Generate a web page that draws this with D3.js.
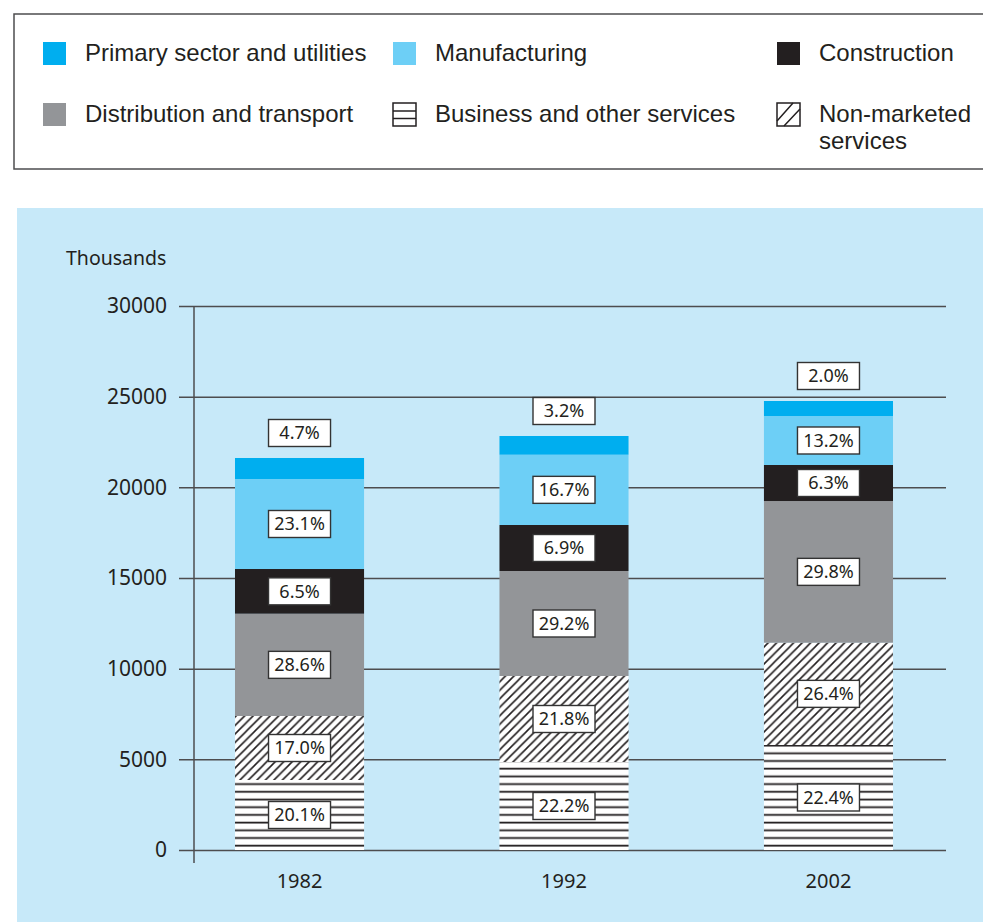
<!DOCTYPE html>
<html>
<head>
<meta charset="utf-8">
<script src="https://cdn.jsdelivr.net/npm/d3@7"></script>
<style>
  body { margin: 0; background: #fff; }
  svg { display: block; }
  .legend text { font-family: "Liberation Sans", Arial, sans-serif; font-size: 24px; fill: #231f20; }
  .chart text { font-family: "Noto Sans", "Open Sans", sans-serif; fill: #231f20; }
</style>
</head>
<body>
<svg></svg>
<script>
// years on the x axis
const years = ["1982", "1992", "2002"];

// sectors, bottom of the stack first
const sectors = ["business", "nonMarketed", "distribution", "construction", "manufacturing", "primary"];

// employment, thousands
const business      = [3860, 4853, 5790];
const nonMarketed   = [3530, 4743, 5642];
const distribution  = [5641, 5790, 7814];
const construction  = [2465, 2537, 1986];
const manufacturing = [4964, 3877, 2702];
const primary       = [1158, 1031, 827];

// share labels printed on the bars
const businessPct      = ["20.1%", "22.2%", "22.4%"];
const nonMarketedPct   = ["17.0%", "21.8%", "26.4%"];
const distributionPct  = ["28.6%", "29.2%", "29.8%"];
const constructionPct  = ["6.5%", "6.9%", "6.3%"];
const manufacturingPct = ["23.1%", "16.7%", "13.2%"];
const primaryPct       = ["4.7%", "3.2%", "2.0%"];

const yTicks = [0, 5000, 10000, 15000, 20000, 25000, 30000];

const values = {business, nonMarketed, distribution, construction, manufacturing, primary};
const pcts = {
  business: businessPct, nonMarketed: nonMarketedPct, distribution: distributionPct,
  construction: constructionPct, manufacturing: manufacturingPct, primary: primaryPct
};

const width = 983;
const height = 922;
const svg = d3.select("svg")
              .attr("width", width)
              .attr("height", height);

const defs = svg.append("defs");

// diagonal hatch for non-marketed services
const diag = defs.append("pattern")
    .attr("id", "diag")
    .attr("patternUnits", "userSpaceOnUse")
    .attr("width", 8.5)
    .attr("height", 8.5);
diag.append("rect").attr("width", 8.5).attr("height", 8.5).attr("fill", "#fff");
diag.append("path")
    .attr("d", "M-2,2 l4,-4 M0,8.5 l8.5,-8.5 M6.5,10.5 l4,-4")
    .attr("stroke", "#231f20")
    .attr("stroke-width", 1.6);

// horizontal lines for business and other services
const horiz = defs.append("pattern")
    .attr("id", "horiz")
    .attr("patternUnits", "userSpaceOnUse")
    .attr("width", 10)
    .attr("height", 7.7);
horiz.append("rect").attr("width", 10).attr("height", 7.7).attr("fill", "#fff");
horiz.append("line")
    .attr("x1", 0).attr("x2", 10)
    .attr("y1", 6.4).attr("y2", 6.4)
    .attr("stroke", "#231f20")
    .attr("stroke-width", 1.8);

const fills = {
  primary: "#00aeef",
  manufacturing: "#6dcff6",
  construction: "#231f20",
  distribution: "#939598",
  business: "url(#horiz)",
  nonMarketed: "url(#diag)"
};

// ---- legend ----
const legend = svg.append("g").attr("class", "legend");
legend.append("rect")
    .attr("x", 14).attr("y", 14)
    .attr("width", 1000).attr("height", 155)
    .attr("fill", "#fff")
    .attr("stroke", "#4d4d4f")
    .attr("stroke-width", 1.5);

const legendItems = [
  {key: "primary", lines: ["Primary sector and utilities"], x: 43, y: 42},
  {key: "manufacturing", lines: ["Manufacturing"], x: 393, y: 42},
  {key: "construction", lines: ["Construction"], x: 777, y: 42},
  {key: "distribution", lines: ["Distribution and transport"], x: 43, y: 103},
  {key: "business", lines: ["Business and other services"], x: 393, y: 103},
  {key: "nonMarketed", lines: ["Non-marketed", "services"], x: 777, y: 103}
];

legendItems.forEach(function(d) {
  const g = legend.append("g").attr("transform", "translate(" + d.x + "," + d.y + ")");
  if (d.key == "business") {
    g.append("rect").attr("width", 23).attr("height", 23)
        .attr("fill", "#fff").attr("stroke", "#231f20").attr("stroke-width", 1.5);
    [8, 15.5].forEach(function(yy) {
      g.append("line").attr("x1", 0).attr("x2", 23).attr("y1", yy).attr("y2", yy)
          .attr("stroke", "#231f20").attr("stroke-width", 1.5);
    });
  } else if (d.key == "nonMarketed") {
    g.append("rect").attr("width", 23).attr("height", 23)
        .attr("fill", "#fff").attr("stroke", "#231f20").attr("stroke-width", 1.5);
    g.append("path").attr("d", "M0,18 L16,0 M7,23 L23,6")
        .attr("stroke", "#231f20").attr("stroke-width", 1.5);
  } else {
    g.append("rect").attr("width", 23).attr("height", 23).attr("fill", fills[d.key]);
  }
  d.lines.forEach(function(t, i) {
    g.append("text")
        .attr("x", 42)
        .attr("y", 19 + i * 27)
        .text(t);
  });
});

// ---- chart panel ----
const chart = svg.append("g").attr("class", "chart");
chart.append("rect")
    .attr("x", 17).attr("y", 208)
    .attr("width", 970).attr("height", 720)
    .attr("fill", "#c7e9f9");

const y = d3.scaleLinear()
    .domain([0, 30000])
    .range([850, 306]);

const x = d3.scaleBand()
    .domain(years)
    .range([194, 934])
    .paddingInner(0.512)
    .paddingOuter(0.155);

// gridlines + tick labels
const yAxis = chart.append("g")
    .attr("transform", "translate(179,0)")
    .call(d3.axisLeft(y)
      .tickValues(yTicks)
      .tickFormat(d3.format("d"))
      .tickSizeInner(-767)
      .tickSizeOuter(0)
      .tickPadding(12));
yAxis.select(".domain").remove();
yAxis.selectAll(".tick line").attr("stroke", "#4d4d4f").attr("stroke-width", 1.5);
yAxis.selectAll(".tick text")
    .attr("font-family", "Noto Sans, sans-serif")
    .attr("font-size", 21)
    .attr("fill", "#231f20");

// vertical axis line
chart.append("line")
    .attr("x1", 194).attr("x2", 194)
    .attr("y1", y(30000)).attr("y2", 863)
    .attr("stroke", "#4d4d4f")
    .attr("stroke-width", 1.5);

chart.append("text")
    .attr("x", 66).attr("y", 265)
    .attr("font-size", 19.5)
    .text("Thousands");

// stacked bars
const table = years.map(function(yr, i) {
  const row = {year: yr};
  sectors.forEach(function(s) { row[s] = values[s][i]; });
  return row;
});

const series = d3.stack().keys(sectors)(table);

const layers = chart.selectAll("g.layer")
    .data(series)
    .enter()
    .append("g")
      .attr("class", "layer")
      .attr("fill", d => fills[d.key]);

layers.selectAll("rect")
    .data(d => d)
    .enter()
    .append("rect")
      .attr("x", d => x(d.data.year))
      .attr("y", d => y(d[1]))
      .attr("width", x.bandwidth())
      .attr("height", d => y(d[0]) - y(d[1]));

// percentage boxes
const boxW = 62;
const boxH = 27;
series.forEach(function(s) {
  s.forEach(function(d, i) {
    const cx = x(d.data.year) + x.bandwidth() / 2;
    let cy = (y(d[0]) + y(d[1])) / 2;
    if (s.key == "primary") cy = y(d[1]) - 25;
    const g = chart.append("g").attr("transform", "translate(" + cx + "," + cy + ")");
    g.append("rect")
        .attr("x", -boxW / 2).attr("y", -boxH / 2)
        .attr("width", boxW).attr("height", boxH)
        .attr("fill", "#fff")
        .attr("stroke", "#333")
        .attr("stroke-width", 1.4);
    g.append("text")
        .attr("text-anchor", "middle")
        .attr("dy", "0.36em")
        .attr("font-size", 18)
        .text(pcts[s.key][i]);
  });
});

// year labels
chart.selectAll("text.year")
    .data(years)
    .enter()
    .append("text")
      .attr("class", "year")
      .attr("x", d => x(d) + x.bandwidth() / 2)
      .attr("y", 888)
      .attr("text-anchor", "middle")
      .attr("font-size", 20)
      .text(d => d);
</script>
</body>
</html>
